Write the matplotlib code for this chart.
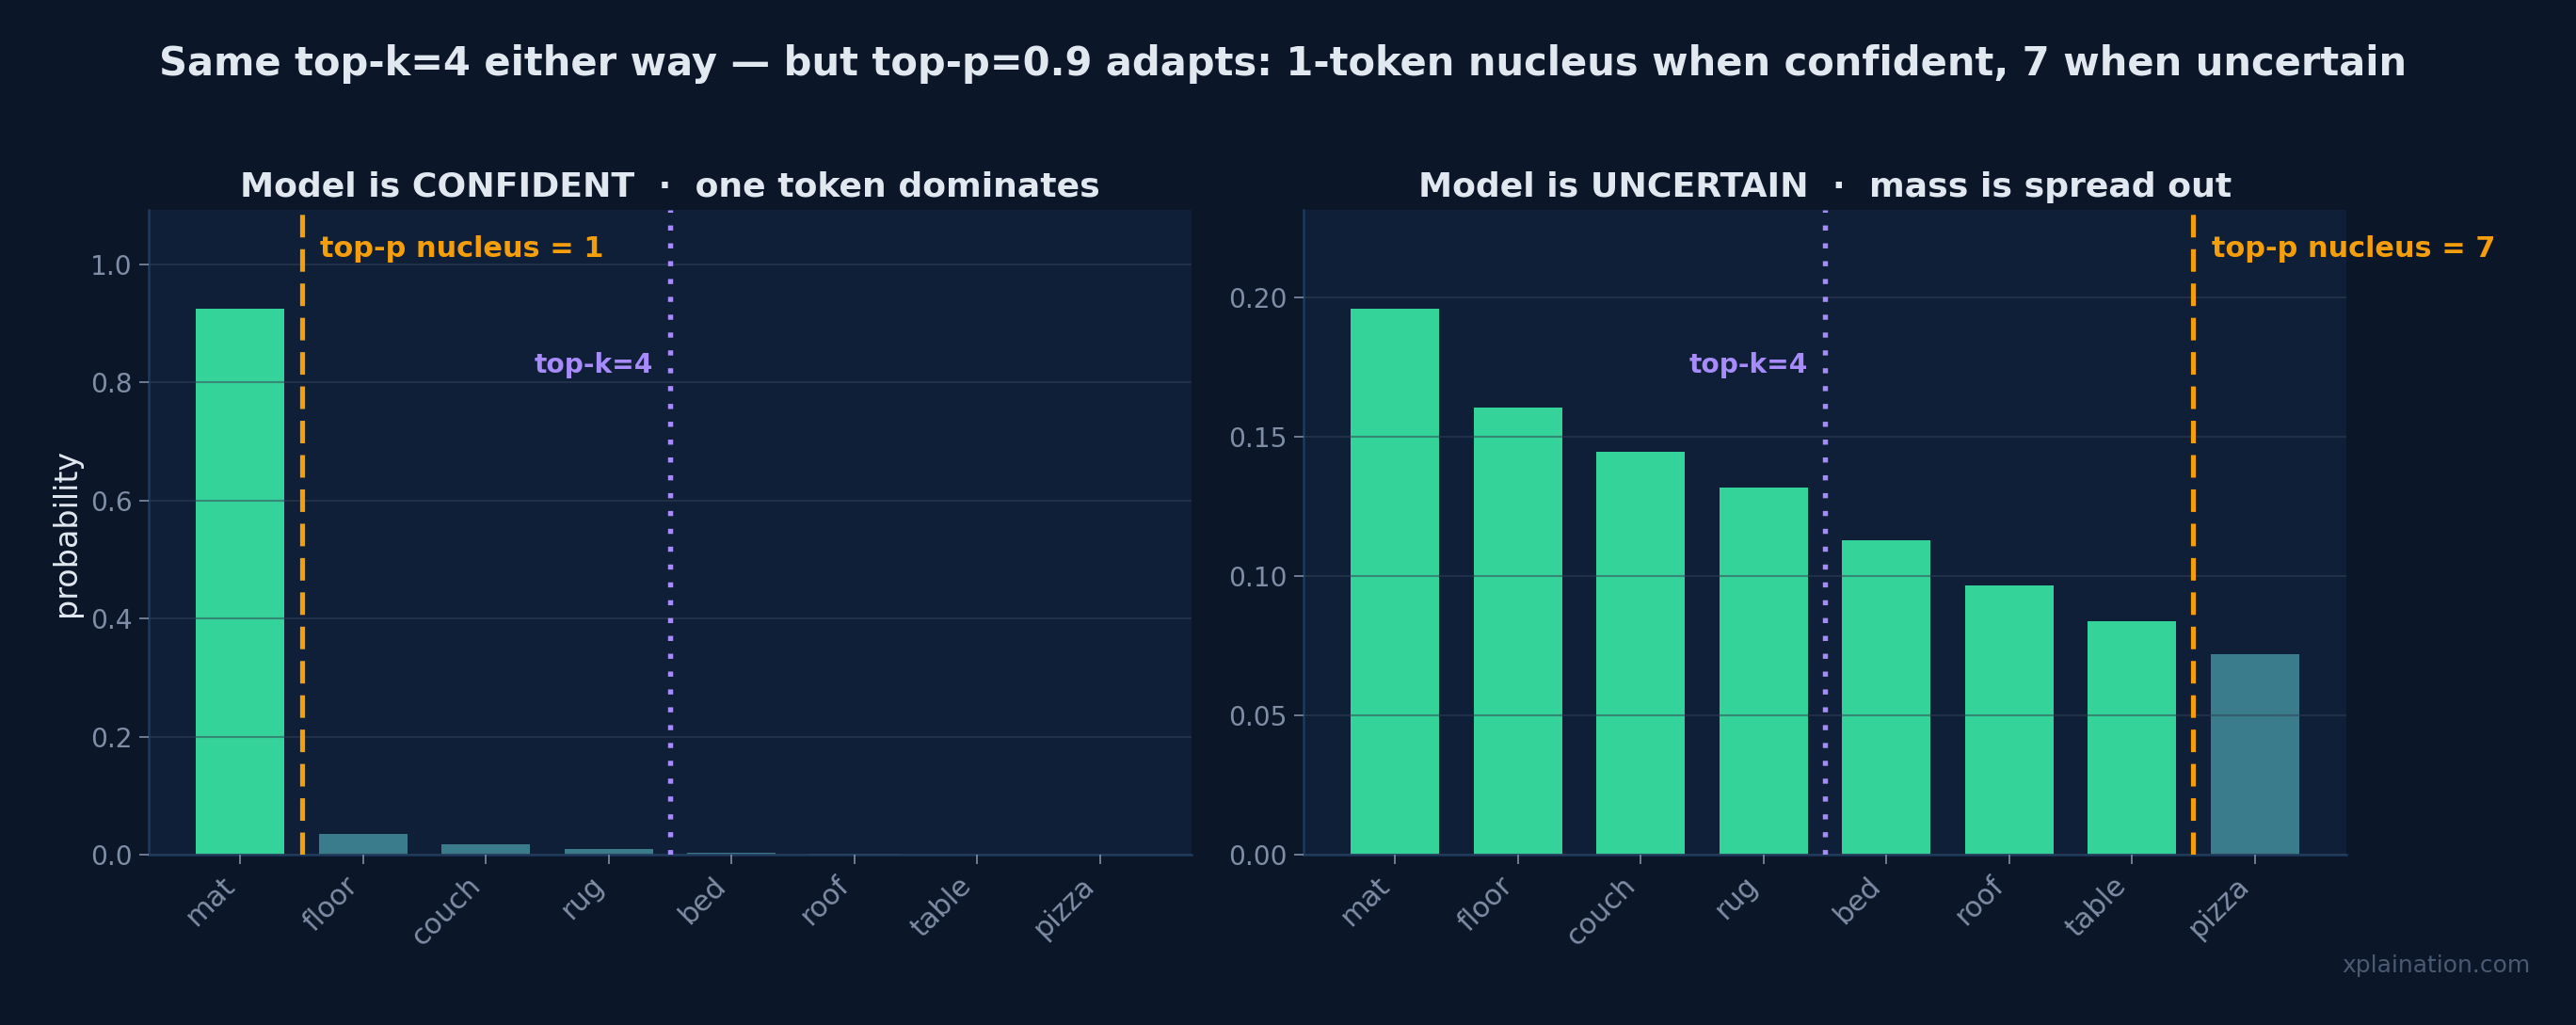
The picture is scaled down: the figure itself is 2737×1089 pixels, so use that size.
import numpy as np
import matplotlib
matplotlib.use("Agg")
import matplotlib.pyplot as plt

tokens = ["mat", "floor", "couch", "rug", "bed", "roof", "table", "pizza"]
probs_confident = [0.925, 0.036, 0.018, 0.010, 0.004, 0.002, 0.0006, 0.0003]
probs_uncertain = [0.196, 0.1605, 0.1445, 0.1316, 0.1127, 0.0968, 0.0838, 0.0720]
top_k = 4
top_p = 0.9

BG = "#0b1628"
AX_BG = "#0f1f38"
GREEN = "#34d399"
OUT = "#3a7b8c"
ORANGE = "#f59e0b"
PURPLE = "#a78bfa"
TEXT = "#e2e8f0"
TICK = "#7f8ea6"

fig = plt.figure(figsize=(18.253, 7.26), dpi=150, facecolor=BG)
ax1 = fig.add_axes([0.0577, 0.166, 0.4047, 0.629])
ax2 = fig.add_axes([0.5058, 0.166, 0.4047, 0.629])


def panel(ax, probs, title):
    probs = np.array(probs)
    cum = np.cumsum(probs)
    nucleus = int(np.searchsorted(cum, top_p) + 1)
    x = np.arange(len(tokens))
    colors = [GREEN if i < nucleus else OUT for i in x]
    ax.set_facecolor(AX_BG)
    ax.bar(x, probs, width=0.72, color=colors, zorder=1)
    ax.set_ylim(0, probs.max() * 1.18)
    ax.grid(axis="y", color="#334155", alpha=0.5, lw=1, zorder=2)
    ax.set_axisbelow(False)
    for s in ["top", "right"]:
        ax.spines[s].set_visible(False)
    for s in ["left", "bottom"]:
        ax.spines[s].set_color("#1e3a5f")
        ax.spines[s].set_linewidth(1.2)
    ax.set_xticks(x)
    ax.set_xticklabels(tokens, rotation=45, ha="right")
    ax.tick_params(colors=TICK, labelsize=13.5, length=5)
    ax.tick_params(axis="x", labelsize=14.5)

    ax.axvline(nucleus - 0.5, color=ORANGE, ls=(0, (4.6, 2.4)), lw=2.5, zorder=3)
    ax.axvline(top_k - 0.5, color=PURPLE, ls=(0, (1, 2.5)), lw=2.6, zorder=3)
    ax.text(nucleus - 0.5 + 0.15, 0.94, f"top-p nucleus = {nucleus}",
            transform=ax.get_xaxis_transform(), color=ORANGE,
            fontsize=14.6, fontweight="bold", va="center", ha="left")
    ax.text(top_k - 0.5 - 0.14, 0.76, f"top-k={top_k}",
            transform=ax.get_xaxis_transform(), color=PURPLE,
            fontsize=13.5, fontweight="bold", va="center", ha="right")
    ax.set_title(title, color=TEXT, fontsize=17.4, fontweight="bold", pad=7)


panel(ax1, probs_confident, "Model is CONFIDENT  ·  one token dominates")
panel(ax2, probs_uncertain, "Model is UNCERTAIN  ·  mass is spread out")
ax1.set_ylabel("probability", color=TEXT, fontsize=16)
ax1.set_yticks([0, 0.2, 0.4, 0.6, 0.8, 1.0])
ax2.set_yticks([0, 0.05, 0.10, 0.15, 0.20])
ax2.set_yticklabels(["0.00", "0.05", "0.10", "0.15", "0.20"])

fig.suptitle("Same top-k=4 either way — but top-p=0.9 adapts: 1-token nucleus when confident, 7 when uncertain",
             color=TEXT, fontsize=20, fontweight="bold", x=0.498, y=0.938, va="center")
fig.text(0.982, 0.058, "xplaination.com", color="#4b5a73", fontsize=12, ha="right", va="center")

fig.savefig("out.png", dpi=150, facecolor=BG)
